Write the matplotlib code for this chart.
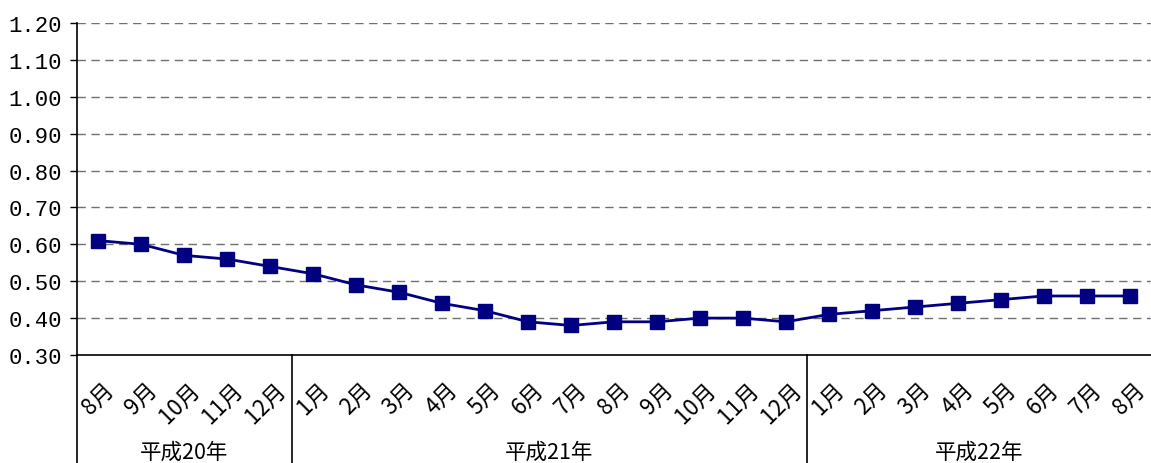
import matplotlib
matplotlib.use("Agg")
import matplotlib.pyplot as plt
import matplotlib.transforms as mtransforms

plt.rcParams['font.family'] = ['Noto Sans CJK JP', 'DejaVu Sans']

# data
months = ['8月', '9月', '10月', '11月', '12月',
          '1月', '2月', '3月', '4月', '5月', '6月', '7月', '8月', '9月', '10月', '11月', '12月',
          '1月', '2月', '3月', '4月', '5月', '6月', '7月', '8月']
values = [0.61, 0.60, 0.57, 0.56, 0.54,
          0.52, 0.49, 0.47, 0.44, 0.42, 0.39, 0.38, 0.39, 0.39, 0.40, 0.40, 0.39,
          0.41, 0.42, 0.43, 0.44, 0.45, 0.46, 0.46, 0.46]
years = ['平成20年', '平成21年', '平成22年']
year_counts = [5, 12, 8]

fig = plt.figure(figsize=(11.51, 4.64), dpi=100)
ax = fig.add_axes([77 / 1151, 1 - 356 / 464, 1 - 77 / 1151, 332 / 464])

x = list(range(len(values)))
ax.plot(x, values, color='#000080', linewidth=2, marker='s', markersize=10.5,
        markerfacecolor='#000080', markeredgecolor='#000080', zorder=3)

ax.set_xlim(-0.5, len(values) - 0.5)
ax.set_ylim(0.30, 1.20)
yt = [round(0.30 + 0.1 * i, 2) for i in range(10)]
ax.set_yticks(yt)
ax.set_yticklabels(['%.2f' % v for v in yt], family=['Liberation Mono', 'DejaVu Sans Mono'],
                   fontsize=16)
ax.tick_params(axis='y', direction='out', length=5, width=1, pad=6)

for v in yt[1:]:
    ax.axhline(v, color='#707070', linewidth=1, linestyle=(0, (6, 4)), zorder=1)

ax.spines['top'].set_visible(False)
ax.spines['right'].set_visible(False)
ax.spines['left'].set_linewidth(1.2)
ax.spines['bottom'].set_linewidth(1.2)

# month labels, rotated
ax.set_xticks(x)
ax.set_xticklabels(months, rotation=45, ha='right', va='center', rotation_mode='anchor',
                   fontsize=16)
ax.tick_params(axis='x', length=0, pad=22)
offset = mtransforms.ScaledTranslation(0.12, 0, fig.dpi_scale_trans)
for lbl in ax.get_xticklabels():
    lbl.set_transform(lbl.get_transform() + offset)

# year groups with separator lines
trans = mtransforms.blended_transform_factory(ax.transData, ax.transAxes)
start = -0.5
for name, n in zip(years, year_counts):
    end = start + n
    ax.plot([start, start], [0, -0.33], transform=trans, color='black', linewidth=1.2,
            clip_on=False)
    ax.text((start + end) / 2, -0.291, name, transform=trans, ha='center', va='center',
            fontsize=15.5)
    start = end

fig.savefig('out.png', dpi=100)
